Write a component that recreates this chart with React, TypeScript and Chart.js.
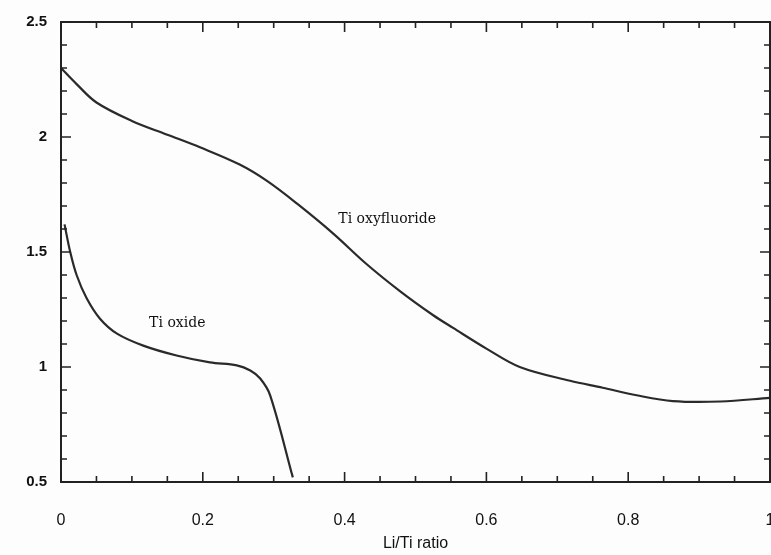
import React, { useEffect, useRef } from "react";
import { Chart, registerables } from "chart.js";

Chart.register(...registerables);

// Ti oxyfluoride curve
const oxyfluorideX = [0, 0.022, 0.05, 0.1, 0.15, 0.196, 0.252, 0.29, 0.333, 0.384, 0.43, 0.478, 0.525, 0.553, 0.6, 0.647, 0.718, 0.764, 0.812, 0.863, 0.93, 1.0];
const oxyfluorideY = [2.3, 2.23, 2.15, 2.07, 2.01, 1.955, 1.88, 1.81, 1.71, 1.58, 1.45, 1.33, 1.225, 1.17, 1.08, 1.0, 0.94, 0.91, 0.877, 0.852, 0.85, 0.866];

// Ti oxide curve
const oxideX = [0.005, 0.013, 0.022, 0.036, 0.055, 0.079, 0.116, 0.163, 0.21, 0.248, 0.267, 0.281, 0.295, 0.327];
const oxideY = [1.62, 1.5, 1.4, 1.3, 1.21, 1.145, 1.093, 1.05, 1.02, 1.007, 0.985, 0.95, 0.877, 0.52];

const xLabelTicks = [0, 0.2, 0.4, 0.6, 0.8, 1];
const yLabelTicks = [0.5, 1, 1.5, 2, 2.5];

const curveLabels = [
  { text: "Ti oxyfluoride", x: 0.46, y: 1.64 },
  { text: "Ti oxide", x: 0.164, y: 1.19 },
];

const isOn = (v: number, list: number[]) => list.some((t) => Math.abs(t - v) < 1e-6);

const framePlugin = {
  id: "frameTicks",
  afterDatasetsDraw(chart: any) {
    const { ctx, chartArea } = chart;
    const xs = chart.scales.x;
    const ys = chart.scales.y;
    ctx.save();
    ctx.strokeStyle = "#222";
    ctx.lineWidth = 2;
    ctx.strokeRect(chartArea.left, chartArea.top, chartArea.right - chartArea.left, chartArea.bottom - chartArea.top);
    ctx.lineWidth = 1.6;
    xs.ticks.forEach((t: any) => {
      const px = xs.getPixelForValue(t.value);
      const len = isOn(t.value, xLabelTicks) ? 10 : 6;
      ctx.beginPath();
      ctx.moveTo(px, chartArea.bottom);
      ctx.lineTo(px, chartArea.bottom - len);
      ctx.moveTo(px, chartArea.top);
      ctx.lineTo(px, chartArea.top + len);
      ctx.stroke();
    });
    ys.ticks.forEach((t: any) => {
      const py = ys.getPixelForValue(t.value);
      const len = isOn(t.value, yLabelTicks) ? 10 : 6;
      ctx.beginPath();
      ctx.moveTo(chartArea.left, py);
      ctx.lineTo(chartArea.left + len, py);
      ctx.moveTo(chartArea.right, py);
      ctx.lineTo(chartArea.right - len, py);
      ctx.stroke();
    });
    ctx.fillStyle = "#111";
    ctx.font = "14px 'DejaVu Serif', serif";
    ctx.textAlign = "center";
    ctx.textBaseline = "middle";
    curveLabels.forEach((l) => {
      ctx.fillText(l.text, xs.getPixelForValue(l.x), ys.getPixelForValue(l.y));
    });
    ctx.restore();
  },
};

export default function App() {
  const ref = useRef<HTMLCanvasElement | null>(null);
  useEffect(() => {
    document.body.style.margin = "0";
    document.body.style.background = "#fdfdfd";
    if (!ref.current) return;
    const chart = new Chart(ref.current, {
      type: "line",
      data: {
        datasets: [
          {
            label: "Ti oxyfluoride",
            data: oxyfluorideX.map((x, i) => ({ x, y: oxyfluorideY[i] })),
            borderColor: "#2a2a2a",
            borderWidth: 2.2,
            pointRadius: 0,
            tension: 0.35,
            fill: false,
          },
          {
            label: "Ti oxide",
            data: oxideX.map((x, i) => ({ x, y: oxideY[i] })),
            borderColor: "#2a2a2a",
            borderWidth: 2.2,
            pointRadius: 0,
            tension: 0.35,
            fill: false,
          },
        ],
      },
      options: {
        animation: false,
        responsive: false,
        clip: false,
        layout: { padding: { left: 0, right: 1, top: 22, bottom: 0 } },
        plugins: { legend: { display: false }, tooltip: { enabled: false } },
        scales: {
          x: {
            type: "linear",
            min: 0,
            max: 1,
            grid: { display: false, drawTicks: false },
            border: { display: false },
            ticks: {
              stepSize: 0.05,
              autoSkip: false,
              maxRotation: 0,
              padding: 29,
              color: "#111",
              font: { family: "'Liberation Sans Narrow', 'Liberation Sans', sans-serif", size: 16 },
              callback: (v: any) => (isOn(Number(v), xLabelTicks) ? String(Math.round(Number(v) * 10) / 10) : ""),
            },
            title: {
              display: true,
              text: "Li/Ti ratio",
              color: "#111",
              padding: { top: 6, bottom: 2 },
              font: { family: "'Liberation Sans Narrow', 'Liberation Sans', sans-serif", size: 16 },
            },
            afterFit: (s: any) => {
              s.height = 73;
              s.paddingRight = 0;
              s.paddingLeft = 0;
            },
          },
          y: {
            min: 0.5,
            max: 2.5,
            grid: { display: false, drawTicks: false },
            border: { display: false },
            ticks: {
              stepSize: 0.1,
              autoSkip: false,
              padding: 14,
              color: "#111",
              font: { family: "'Liberation Sans Narrow', 'Liberation Sans', sans-serif", size: 15, weight: "bold" },
              callback: (v: any) => (isOn(Number(v), yLabelTicks) ? String(Math.round(Number(v) * 10) / 10) : ""),
            },
            afterFit: (s: any) => {
              s.width = 61;
              s.paddingTop = 0;
              s.paddingBottom = 0;
            },
          },
        },
      },
      plugins: [framePlugin],
    } as any);
    return () => chart.destroy();
  }, []);
  return (
    <div style={{ width: 771, height: 555, background: "#fdfdfd" }}>
      <canvas ref={ref} width={771} height={555} style={{ display: "block" }} />
    </div>
  );
}
